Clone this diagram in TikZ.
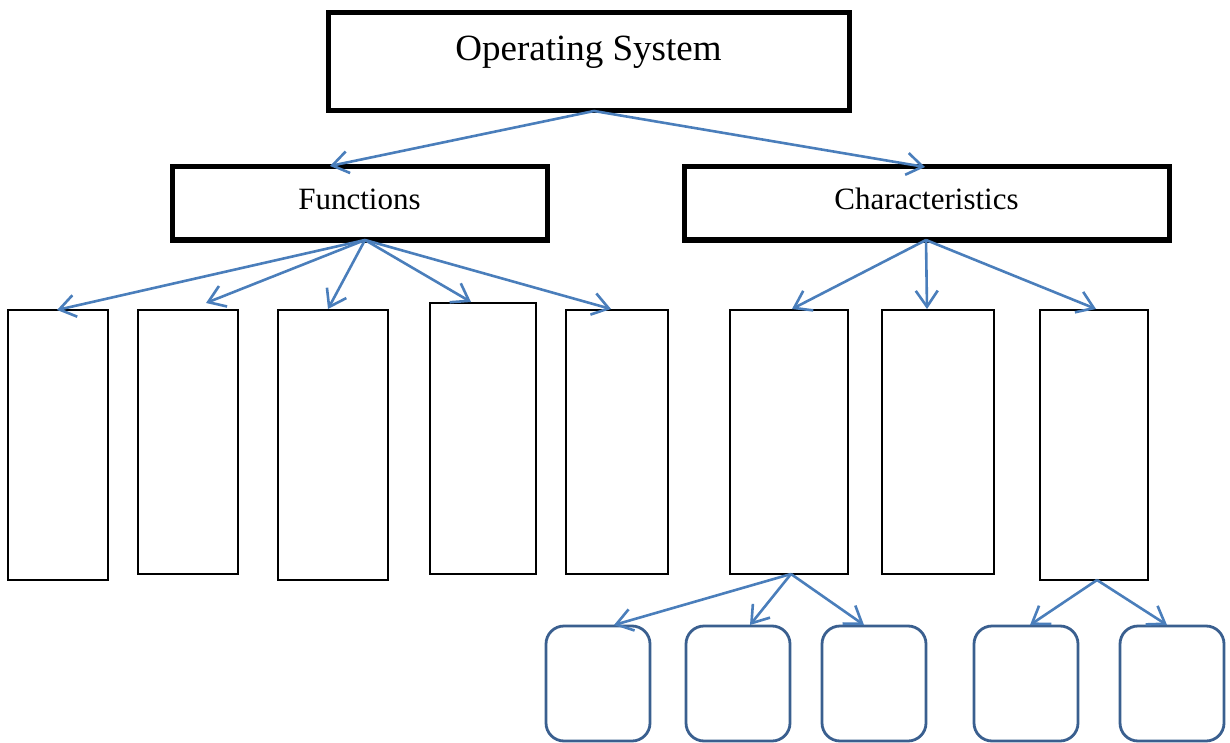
\documentclass[tikz,border=0pt]{standalone}
\usepackage{fontspec}
\setmainfont{Liberation Serif}
\usetikzlibrary{arrows.meta}
\definecolor{arrowblue}{HTML}{4A7EBB}
\definecolor{boxblue}{HTML}{3A5F8F}
\begin{document}
\begin{tikzpicture}[x=1pt,y=-1pt,
  thickbox/.style={draw=black,line width=5pt,inner sep=0pt,fill=white},
  tallbox/.style={draw=black,line width=2.8pt,inner sep=0pt},
  roundbox/.style={draw=boxblue,line width=2.8pt,rounded corners=18pt,inner sep=0pt,minimum width=104pt,minimum height=115pt},
  conn/.style={draw=arrowblue,line width=2.6pt,-{Straight Barb[length=16pt,width=22pt,line width=2.6pt]}},
  lbl/.style={anchor=base,inner sep=0pt}]
\useasboundingbox (0,0) rectangle (1230,743);
% top level
\node[thickbox,minimum width=521pt,minimum height=98pt] (os) at (588.5,62) {};
\node[lbl,font=\fontsize{37}{40}\selectfont] (ostxt) at (588.5,61) {Operating System};
\node[thickbox,minimum width=375pt,minimum height=73pt] (fun) at (359.5,203.5) {};
\node[lbl,font=\fontsize{31}{34}\selectfont] (funtxt) at (359.5,210) {Functions};
\node[thickbox,minimum width=485pt,minimum height=73pt] (cha) at (926.5,203.5) {};
\node[lbl,font=\fontsize{31}{34}\selectfont] (chatxt) at (926.5,210) {Characteristics};
% tall boxes
\node[tallbox,minimum width=100pt,minimum height=270pt] (b1) at (58,445) {};
\node[tallbox,minimum width=100pt,minimum height=264pt] (b2) at (188,442) {};
\node[tallbox,minimum width=110pt,minimum height=270pt] (b3) at (333,445) {};
\node[tallbox,minimum width=106pt,minimum height=271pt] (b4) at (483,438.5) {};
\node[tallbox,minimum width=102pt,minimum height=264pt] (b5) at (617,442) {};
\node[tallbox,minimum width=118pt,minimum height=264pt] (b6) at (789,442) {};
\node[tallbox,minimum width=112pt,minimum height=264pt] (b7) at (938,442) {};
\node[tallbox,minimum width=108pt,minimum height=270pt] (b8) at (1094,445) {};
% rounded boxes
\node[roundbox] (r1) at (598,683.5) {};
\node[roundbox] (r2) at (738,683.5) {};
\node[roundbox] (r3) at (874,683.5) {};
\node[roundbox] (r4) at (1026,683.5) {};
\node[roundbox] (r5) at (1172,683.5) {};
% connector end points
\coordinate (osout) at (594,111);
\coordinate (tf) at (330,166);
\coordinate (tc) at (925,167);
\coordinate (funout) at (365,240);
\coordinate (t1) at (57,310);
\coordinate (t2) at (206,303);
\coordinate (t3) at (328,309);
\coordinate (t4) at (471,302);
\coordinate (t5) at (611,309);
\coordinate (chaout) at (926,240);
\coordinate (t6) at (792,309);
\coordinate (t7) at (927,309);
\coordinate (t8) at (1096,309);
\coordinate (b6out) at (791,574);
\coordinate (s1) at (614,625);
\coordinate (s2) at (750,625);
\coordinate (s3) at (864,625);
\coordinate (b8out) at (1097,580);
\coordinate (s4) at (1030,625);
\coordinate (s5) at (1167,625);
% connectors
\draw[conn] (osout) -- (tf);
\draw[conn] (osout) -- (tc);
\foreach \t in {t1,t2,t3,t4,t5} \draw[conn] (funout) -- (\t);
\foreach \t in {t6,t7,t8} \draw[conn] (chaout) -- (\t);
\foreach \t in {s1,s2,s3} \draw[conn] (b6out) -- (\t);
\foreach \t in {s4,s5} \draw[conn] (b8out) -- (\t);
\end{tikzpicture}
\end{document}
